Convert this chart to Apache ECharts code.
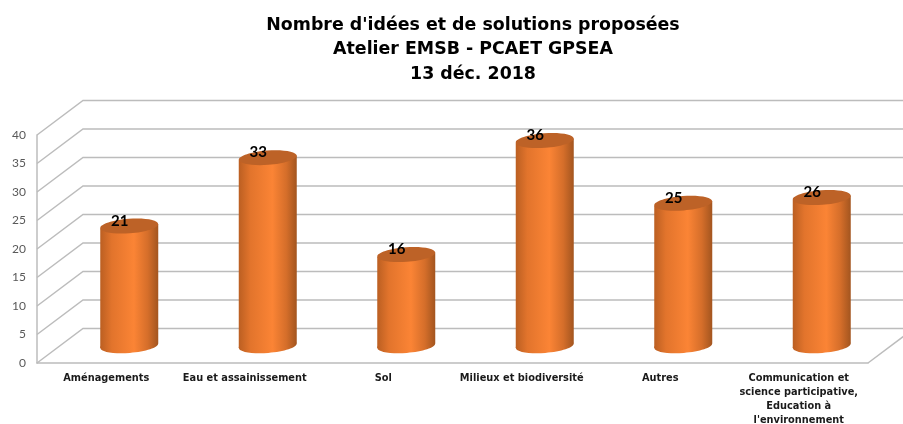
<!DOCTYPE html>
<html>
<head>
<meta charset="utf-8">
<style>html,body{margin:0;padding:0;background:#fff}#chart{width:903px;height:424px}</style>
<script src="https://cdn.jsdelivr.net/npm/echarts@6/dist/echarts.min.js"></script>
</head>
<body>
<div id="chart"></div>
<script>
const categories = ['Aménagements', 'Eau et assainissement', 'Sol', 'Milieux et biodiversité', 'Autres',
  'Communication et\nscience participative,\nEducation à\nl\'environnement'];
const values = [21, 33, 16, 36, 25, 26];
const wallTicks = [0, 5, 10, 15, 20, 25, 30, 35, 40];
const titleLines = ["Nombre d'idées et de solutions proposées", 'Atelier EMSB - PCAET GPSEA', '13 déc. 2018'];

// Pixel depth of the pseudo-3D box; columns stand half way into it.
const DEPTH_X = 46, DEPTH_Y = -34.5;
const COL_RX = 29, COL_RY = 7.2, TILT = 0.075;
const GRID_COLOR = '#bcbcbc';
const FONT = '"Lato", "Open Sans", sans-serif';
const LABEL_FONT = '"DejaVu Sans", "Open Sans", sans-serif';

const columnFill = {
  type: 'linear', x: 0, y: 0, x2: 1, y2: 0,
  colorStops: [
    { offset: 0, color: '#bb5f22' },
    { offset: 0.2, color: '#e2742c' },
    { offset: 0.58, color: '#fb8435' },
    { offset: 0.82, color: '#d56e2a' },
    { offset: 1, color: '#a3551f' }
  ]
};

function renderWall(params, api) {
  const tick = api.value(0);
  const cs = params.coordSys;
  const y = api.coord([0, tick])[1];
  const left = cs.x, right = cs.x + cs.width;
  const children = [{
    type: 'polyline',
    shape: { points: [[left, y], [left + DEPTH_X, y + DEPTH_Y], [right + DEPTH_X, y + DEPTH_Y]] },
    style: { stroke: GRID_COLOR, lineWidth: 1.5, fill: null }
  }];
  if (tick === 0) {
    children.push({
      type: 'line',
      shape: { x1: right, y1: y, x2: right + DEPTH_X, y2: y + DEPTH_Y },
      style: { stroke: GRID_COLOR, lineWidth: 1.5 }
    });
  }
  return { type: 'group', children };
}

function renderColumn(params, api) {
  const idx = api.value(0), val = api.value(1);
  const top = api.coord([idx, val]);
  const base = api.coord([idx, 0]);
  const cx = top[0] + DEPTH_X / 2;
  const ty = top[1] + DEPTH_Y / 2;
  const by = base[1] + DEPTH_Y / 2;
  const s = COL_RX * Math.sin(TILT);
  const ellipse = (cy, fill) => ({
    type: 'ellipse',
    x: cx, y: cy, rotation: TILT,
    shape: { cx: 0, cy: 0, rx: COL_RX, ry: COL_RY },
    style: { fill }
  });
  return {
    type: 'group',
    children: [
      ellipse(by, columnFill),
      {
        type: 'polygon',
        shape: { points: [[cx - COL_RX, ty + s], [cx + COL_RX, ty - s], [cx + COL_RX, by - s], [cx - COL_RX, by + s]] },
        style: { fill: columnFill }
      },
      ellipse(ty, '#bd6227'),
      {
        type: 'text',
        x: cx - 9.5, y: ty - 5,
        style: {
          text: String(val), fill: '#000', align: 'center', verticalAlign: 'middle',
          font: 'bold 15px ' + FONT
        }
      }
    ]
  };
}

const chart = echarts.init(document.getElementById('chart'), null, { renderer: 'canvas' });
chart.setOption({
  animation: false,
  backgroundColor: '#fff',
  title: {
    text: titleLines.join('\n'),
    left: 468, top: 8, textAlign: 'center',
    textStyle: { fontFamily: LABEL_FONT, fontSize: 17.4, fontWeight: 'bold', color: '#000', lineHeight: 24.5 }
  },
  grid: { left: 37, right: 35, top: 135, bottom: 61, outerBoundsMode: 'none' },
  xAxis: {
    type: 'category',
    data: categories,
    axisLine: { lineStyle: { color: GRID_COLOR, width: 1.5 } },
    axisTick: { show: false },
    axisLabel: {
      interval: 0, margin: 9, color: '#1a1a1a', fontFamily: LABEL_FONT, fontWeight: 'bold',
      fontSize: 9.8, lineHeight: 13.7
    }
  },
  yAxis: {
    type: 'value', min: 0, max: 40, interval: 5,
    axisLine: { show: true, lineStyle: { color: GRID_COLOR, width: 1.5 } },
    axisTick: { show: false },
    splitLine: { show: false },
    axisLabel: { margin: 11, color: '#595959', fontFamily: FONT, fontSize: 12, padding: [2, 0, 0, 0] }
  },
  series: [
    {
      type: 'custom', z: 1, clip: false, silent: true,
      renderItem: renderWall,
      encode: { y: 0 },
      data: wallTicks.map(v => [v])
    },
    {
      type: 'custom', z: 2, clip: false, silent: true,
      renderItem: renderColumn,
      encode: { x: 0, y: 1 },
      data: values.map((v, i) => [i, v])
    }
  ]
});
</script>
</body>
</html>
